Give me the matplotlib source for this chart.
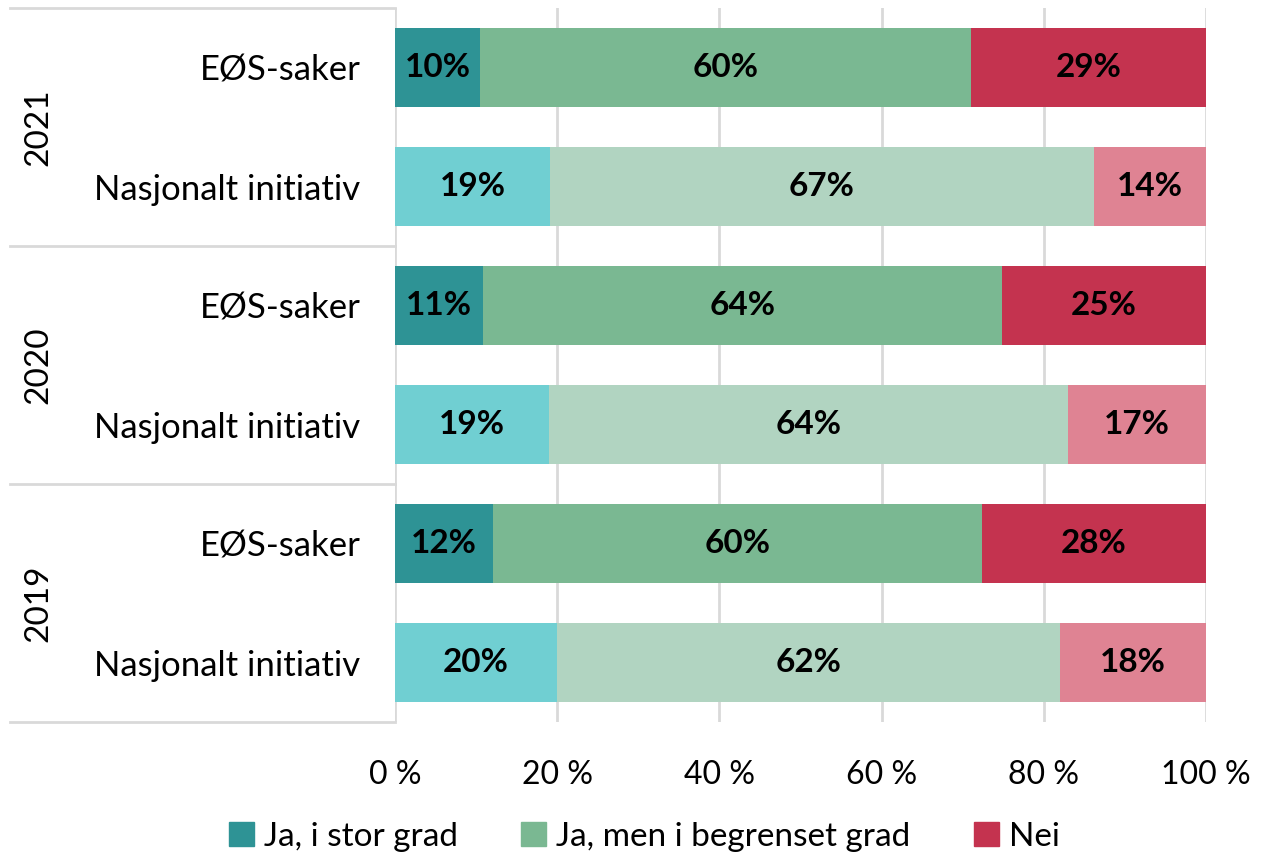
import matplotlib.pyplot as plt
from matplotlib.patches import Patch

plt.rcParams['font.family'] = ['Lato', 'DejaVu Sans']

# Data (percent), top row first
years = ['2021', '2020', '2019']
rows = ['EØS-saker', 'Nasjonalt initiativ'] * 3
stor = [10.5, 19.1, 10.9, 19.0, 12.1, 20.0]
begrenset = [60.5, 67.1, 63.9, 64.0, 60.3, 62.0]
nei = [29.0, 13.8, 25.2, 17.0, 27.6, 18.0]
stor_lbl = ['10%', '19%', '11%', '19%', '12%', '20%']
begr_lbl = ['60%', '67%', '64%', '64%', '60%', '62%']
nei_lbl = ['29%', '14%', '25%', '17%', '28%', '18%']
series = ['Ja, i stor grad', 'Ja, men i begrenset grad', 'Nei']

dark = ['#2E9395', '#7AB892', '#C4334F']
light = ['#70CFD2', '#B1D4C1', '#DF8393']

fig = plt.figure(figsize=(12.63, 8.59), dpi=100)
ax = fig.add_axes([395 / 1263, 1 - 722 / 859, 811 / 1263, 714 / 859])

ypos = [5 - i for i in range(6)]
grid_c = '#D9D9D9'
for x in [20, 40, 60, 80, 100]:
    ax.axvline(x, color=grid_c, lw=2, zorder=0)

for i, y in enumerate(ypos):
    cols = dark if i % 2 == 0 else light
    vals = [stor[i], begrenset[i], nei[i]]
    lbls = [stor_lbl[i], begr_lbl[i], nei_lbl[i]]
    left = 0
    for v, c, l in zip(vals, cols, lbls):
        ax.barh(y, v, left=left, height=0.67, color=c, zorder=2)
        ax.text(left + v / 2, y, l, ha='center', va='center',
                fontsize=24, fontweight='bold', color='black', zorder=3)
        left += v

ax.set_xlim(0, 100)
ax.set_ylim(-0.5, 5.5)
ax.set_xticks([0, 20, 40, 60, 80, 100])
ax.set_xticklabels(['0 %', '20 %', '40 %', '60 %', '80 %', '100 %'], fontsize=23)
ax.tick_params(axis='x', length=0, pad=27)
ax.set_yticks(ypos)
ax.set_yticklabels(rows, fontsize=25)
ax.tick_params(axis='y', length=0, pad=25)
for s in ax.spines.values():
    s.set_visible(False)
ax.axvline(0, color=grid_c, lw=2, zorder=1)

# group separators and year labels on the left
x0 = (10 - 395) / 811
for yb in [5.5, 3.5, 1.5, -0.5]:
    ax.plot([x0, 0], [yb, yb], color=grid_c, lw=2, clip_on=False,
            transform=ax.get_yaxis_transform())
for k, yr in enumerate(years):
    ax.text(38 / 1263, 1 - (127 + k * 238) / 859, yr, rotation=90,
            ha='center', va='center', fontsize=24, transform=fig.transFigure)

handles = [Patch(color=c) for c in dark]
fig.legend(handles, series, loc='center', bbox_to_anchor=(0.51, 0.026),
           ncol=3, frameon=False, fontsize=24, handlelength=0.75,
           handleheight=0.75, handletextpad=0.3, columnspacing=1.9)

fig.savefig('out.png', dpi=100)
